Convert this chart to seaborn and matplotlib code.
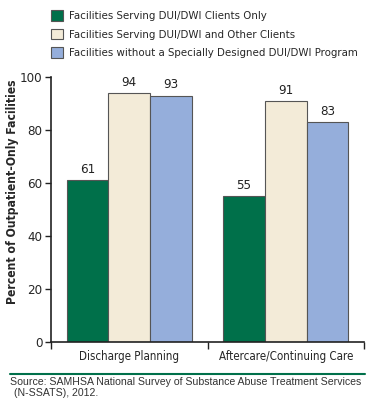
import pandas as pd
import matplotlib.pyplot as plt
import seaborn as sns
from matplotlib.patches import Patch
from matplotlib.lines import Line2D

services = ["Discharge Planning", "Aftercare/Continuing Care"]
groups = [
    "Facilities Serving DUI/DWI Clients Only",
    "Facilities Serving DUI/DWI and Other Clients",
    "Facilities without a Specially Designed DUI/DWI Program",
]
dui_only = [61, 55]
dui_other = [94, 91]
no_program = [93, 83]
colors = ["#00704A", "#F3EBD8", "#95AEDB"]

rows = []
for g, vals in zip(groups, [dui_only, dui_other, no_program]):
    for s, v in zip(services, vals):
        rows.append({"service": s, "group": g, "pct": v})
df = pd.DataFrame(rows)

sns.set_style("white")
plt.rcParams["font.family"] = ["DejaVu Sans"]
plt.rcParams["font.stretch"] = "condensed"

fig = plt.figure(figsize=(3.75, 4.16), dpi=100)
ax = fig.add_axes([0.136, 0.178, 0.835, 0.637])

sns.barplot(data=df, x="service", y="pct", hue="group", order=services,
            hue_order=groups, palette=colors, saturation=1, width=0.8, ax=ax,
            edgecolor="#555555", linewidth=0.8, legend=False)

for cont in ax.containers:
    ax.bar_label(cont, fmt="%d", padding=3, fontsize=9.5, color="#222222")

ax.set_ylim(0, 100)
ax.set_xlim(-0.5, 1.5)
ax.set_yticks([0, 20, 40, 60, 80, 100])
ax.tick_params(axis="y", labelsize=9.5, length=4, width=1, color="#222222", direction="out", left=True, pad=2)
ax.set_xticks([-0.5, 0.5, 1.5])
ax.set_xticklabels([])
ax.tick_params(axis="x", which="major", length=5, width=1, color="#222222", direction="out", bottom=True)
ax.set_xticks([0, 1], minor=True)
ax.set_xticklabels(services, minor=True, fontsize=8.3)
ax.tick_params(axis="x", which="minor", length=0, pad=6)
ax.set_xlabel("")
ax.set_ylabel("Percent of Outpatient-Only Facilities", fontsize=8.7, fontweight="bold")
ax.yaxis.set_label_coords(-0.103, 0.566)
sns.despine(ax=ax)
for sp in ["left", "bottom"]:
    ax.spines[sp].set_color("#222222")
    ax.spines[sp].set_linewidth(1.2)

handles = [Patch(facecolor=c, edgecolor="#555555", linewidth=0.8) for c in colors]
fig.legend(handles, groups, loc="upper left", bbox_to_anchor=(0.136, 0.976),
           frameon=False, fontsize=8.2, handlelength=1.05, handleheight=1.05,
           handletextpad=0.5, labelspacing=0.65, borderpad=0, borderaxespad=0)

fig.add_artist(Line2D([0.027, 0.973], [0.101, 0.101], color="#00704A", linewidth=1.5))
fig.text(0.027, 0.082, "Source: SAMHSA National Survey of Substance Abuse Treatment Services",
         fontsize=7.6, color="#333333", family=["Liberation Sans", "DejaVu Sans"], stretch="normal", va="center")
fig.text(0.037, 0.055, "(N-SSATS), 2012.",
         fontsize=7.6, color="#333333", family=["Liberation Sans", "DejaVu Sans"], stretch="normal", va="center")

fig.savefig("out.png", dpi=100)
